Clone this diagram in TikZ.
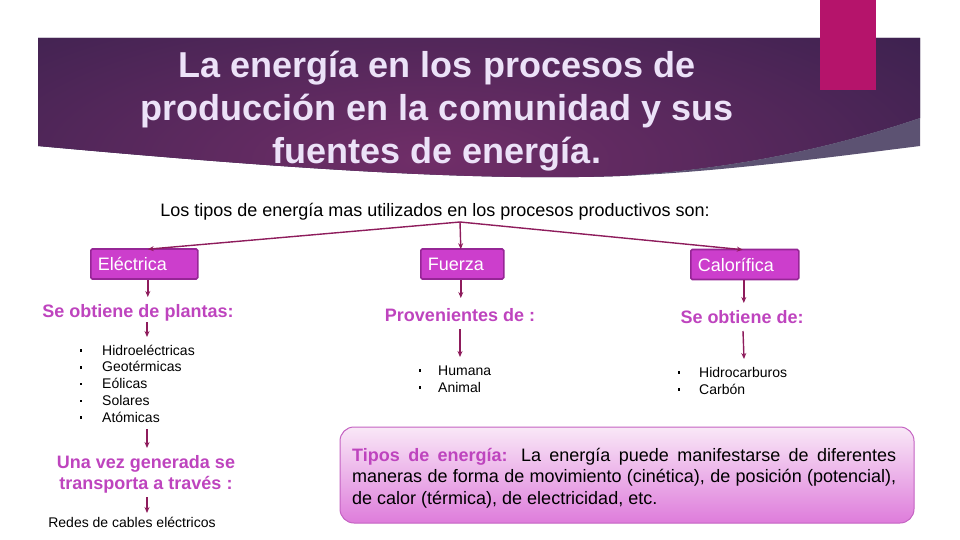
\documentclass[tikz,border=0pt]{standalone}
\usepackage{fontspec}
\setmainfont{Liberation Sans}
\usetikzlibrary{arrows.meta,calc}
\definecolor{arrc}{RGB}{142,28,92}
\definecolor{boxfill}{RGB}{204,62,204}
\definecolor{boxline}{RGB}{150,38,150}
\definecolor{headc}{RGB}{190,68,190}
\definecolor{pinkbar}{RGB}{181,20,107}
\definecolor{darkband}{RGB}{37,28,68}
\definecolor{midband}{RGB}{112,46,104}
\definecolor{lilac}{RGB}{92,82,114}
\definecolor{titlec}{RGB}{236,226,248}
\definecolor{boxtop}{RGB}{249,232,247}
\definecolor{boxbot}{RGB}{222,124,219}
\definecolor{boxedge}{RGB}{196,98,194}
\tikzset{
  arr/.style={draw=arrc, line width=1.4pt, -{Stealth[length=6pt,width=5pt]}},
  catbox/.style={draw=boxline, line width=1.6pt, fill=boxfill, rounded corners=1.5pt,
    minimum height=30pt, inner sep=0pt, text=white, font=\fontsize{18}{21}\selectfont,
    align=left, anchor=west},
  heading/.style={text=headc, font=\bfseries\fontsize{18}{21}\selectfont, inner sep=0pt, anchor=base},
  item/.style={font=\fontsize{14}{16}\selectfont, inner sep=0pt, anchor=base west},
  bul/.style={fill=black, minimum size=2.6pt, inner sep=0pt},
}
\begin{document}
\begin{tikzpicture}[x=1pt,y=-1pt]
\useasboundingbox (0,0) rectangle (960,540);
% header band
\begin{scope}
  \clip (38,38) -- (920,38) -- (920,118) .. controls (820,152) and (720,170) .. (620,176)
        .. controls (480,181) and (300,170) .. (38,146) -- cycle;
  \fill[darkband] (0,0) rectangle (960,200);
  \shade[inner color=midband, outer color=darkband] (430,160) ellipse (920 and 300);
\end{scope}
\fill[lilac] (920,118) .. controls (820,152) and (720,170) .. (620,176)
      .. controls (720,172) and (840,156) .. (920,146) -- cycle;
\fill[pinkbar] (820,0) rectangle (876,90);
\node[text=titlec, font=\bfseries\fontsize{36}{43}\selectfont, align=center, inner sep=0pt, anchor=base]
  (title) at (437,164) {La energía en los procesos de\\producción en la comunidad y sus\\fuentes de energía.};
% subtitle
\node[font=\fontsize{18}{21}\selectfont, inner sep=0pt, anchor=base] (sub) at (435,216)
  {Los tipos de energía mas utilizados en los procesos productivos son:};
\coordinate (hub) at (460,222);
% category boxes
\node[catbox, minimum width=107pt, text width=101pt] (E) at (90,264) {\hspace*{4pt}Eléctrica};
\node[catbox, minimum width=83pt, text width=77pt] (F) at (420,264) {\hspace*{4pt}Fuerza};
\node[catbox, minimum width=108pt, text width=102pt] (C) at (690,264.5) {\hspace*{4pt}Calorífica};
\draw[arr] (hub) -- ([xshift=3.5pt,yshift=-1pt]E.north);
\draw[arr] (hub) -- ([xshift=-1.5pt,yshift=-1pt]F.north);
\draw[arr] (hub) -- ([xshift=-2pt,yshift=-1pt]C.north);
% Electrica column
\node[heading] (SP) at (138,317) {Se obtiene de plantas:};
\draw[arr] ([xshift=3.5pt]E.south) -- ([xshift=3.5pt]E.south |- 0,297);
\draw[arr] (147,322) -- (147,337);
\foreach \t [count=\i] in {Hidroeléctricas,Geotérmicas,Eólicas,Solares,Atómicas}{
  \node[item] (e\i) at (102,{355+16.8*(\i-1)}) {\t};
  \node[bul] at ($(e\i.base west)+(-21,-4.5)$) {};
}
\draw[arr] (147,429) -- (147,448);
\node[heading, align=center] (UV) at (146,489) {Una vez generada se\\transporta a través :};
\draw[arr] (147,497) -- (147,513);
\node[font=\fontsize{14}{16}\selectfont, inner sep=0pt, anchor=base] (R) at (132,527) {Redes de cables eléctricos};
% Fuerza column
\draw[arr] ([xshift=-1.5pt]F.south) -- ([xshift=-1.5pt]F.south |- 0,298);
\node[heading] (PD) at (460,321) {Provenientes de :};
\draw[arr] (460,329) -- (460,357);
\foreach \t [count=\i] in {Humana,Animal}{
  \node[item] (f\i) at (438,{375+17*(\i-1)}) {\t};
  \node[bul] at ($(f\i.base west)+(-18,-4.5)$) {};
}
% Calorifica column
\draw[arr] ([xshift=-1pt]C.south) -- ([xshift=-1pt]C.south |- 0,303);
\node[heading] (SD) at (742,323) {Se obtiene de:};
\draw[arr] (743,331) -- (744,359);
\foreach \t [count=\i] in {Hidrocarburos,Carbón}{
  \node[item] (c\i) at (699,{377+17*(\i-1)}) {\t};
  \node[bul] at ($(c\i.base west)+(-20,-4.5)$) {};
}
% bottom box
\shade[top color=boxtop, bottom color=boxbot, draw=boxedge, line width=1pt, rounded corners=14pt]
  (340,427) rectangle (914,523);
\node[text width=544pt, align=justify, inner sep=0pt, anchor=base west,
  font=\fontsize{18}{21.5}\selectfont] (T) at (352,461)
  {\textcolor{headc}{\bfseries Tipos de energía:} La energía puede manifestarse de diferentes maneras de forma de movimiento (cinética), de posición (potencial), de calor (térmica), de electricidad, etc.};
\end{tikzpicture}
\end{document}
